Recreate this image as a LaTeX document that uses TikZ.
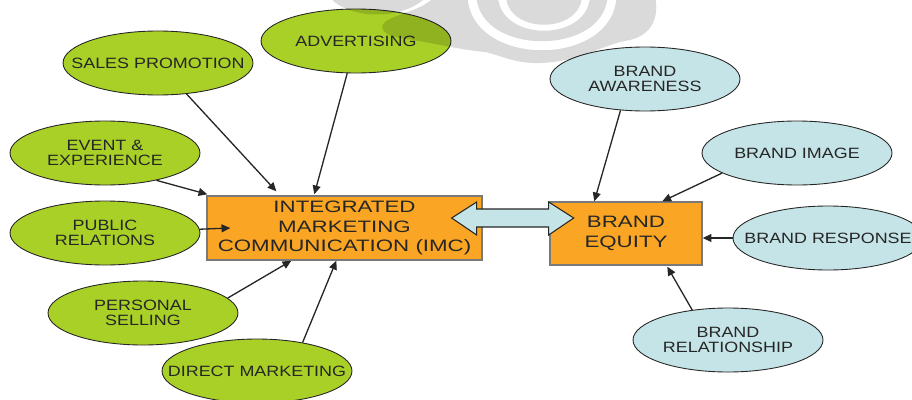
\documentclass[tikz,border=0pt]{standalone}
\usepackage{fontspec}
\setmainfont{Liberation Sans}
\newfontfamily\ellfont{Liberation Sans}[FakeStretch=1.2]
\newfontfamily\boxfont{Liberation Sans}[FakeStretch=1.35]
\usetikzlibrary{shapes.geometric,arrows.meta,calc}
\definecolor{toolgreen}{RGB}{169,208,38}
\definecolor{facetblue}{RGB}{197,228,231}
\definecolor{huborange}{RGB}{250,166,36}
\definecolor{inkgray}{RGB}{38,38,38}
\definecolor{rimgray}{RGB}{122,122,122}
% zero-width line so the oval keeps its own fixed size
\newcommand\ovline[1]{\makebox[0pt]{#1}}

\begin{document}
\begin{tikzpicture}[x=0.02cm,y=-0.02cm,
  oval/.style={ellipse, draw=inkgray, line width=0.5pt, minimum width=3.8cm,
    minimum height=1.28cm, inner sep=0pt, align=center, text=inkgray,
    font=\ellfont\fontsize{8.5}{8.6}\selectfont},
  tool/.style={oval, fill=toolgreen},
  facet/.style={oval, fill=facetblue},
  hub/.style={rectangle, draw=rimgray, line width=0.8pt, fill=huborange,
    inner sep=0pt, align=center, text=inkgray,
    font=\boxfont\fontsize{9.4}{11}\selectfont},
  link/.style={draw=inkgray, line width=0.75pt,
    -{Triangle[length=5pt,width=4.5pt]}},
  twoway/.style={draw=inkgray, line width=0.6pt, fill=facetblue},
  swirl/.style={fill=black, fill opacity=0.145, even odd rule}
]
\useasboundingbox (0,0) rectangle (912,399);

% communication tools
\node[tool] (sp)  at (158,63)  {\ovline{SALES PROMOTION}};
\node[tool] (adv) at (356,41)  {\ovline{ADVERTISING}};
\node[tool] (ev)  at (105,153) {\ovline{EVENT \&}\\\ovline{EXPERIENCE}};
\node[tool] (pr)  at (105,233) {\ovline{PUBLIC}\\\ovline{RELATIONS}};
\node[tool] (ps)  at (143,313) {\ovline{PERSONAL}\\\ovline{SELLING}};
\node[tool] (dm)  at (257,371) {\ovline{DIRECT MARKETING}};

% central boxes
\node[hub, minimum width=5.5cm, minimum height=1.28cm] (imc) at (344.5,228)
  {INTEGRATED\\MARKETING\\COMMUNICATION (IMC)};
\node[hub, minimum width=3.04cm, minimum height=1.26cm] (be) at (626,233.5)
  {BRAND\\EQUITY};

% brand equity facets
\node[facet] (ba)  at (645,79)  {\ovline{BRAND}\\\ovline{AWARENESS}};
\node[facet] (bi)  at (797,153) {\ovline{BRAND IMAGE}};
\node[facet] (brs) at (828,238) {\ovline{BRAND RESPONSE}};
\node[facet] (brl) at (728,340) {\ovline{BRAND}\\\ovline{RELATIONSHIP}};

% connectors into IMC
\draw[link] (sp) -- ($(imc.north west)+(70,-4)$);
\draw[link] (adv) -- ($(imc.north west)+(108,-1)$);
\draw[link] (ev.-28) -- ($(imc.north west)+(1,-1)$);
\draw[link] (pr) -- ($(imc.west)+(24,0)$);
\draw[link] (ps.10) -- ($(imc.south west)+(85,0)$);
\draw[link] (dm.32) -- ($(imc.south west)+(130,0)$);

% connectors into brand equity
\draw[link] (ba.-128) -- ($(be.north west)+(45,0)$);
\draw[link] (bi.-165) -- ($(be.north west)+(113,0)$);
\draw[link] (brs) -- (brs -| be.east);
\draw[link] (brl.140) -- ($(be.south west)+(118,1)$);

% two-way block arrow between the boxes
\coordinate (tl) at ($(imc.east)+(-31,-10)$);
\draw[twoway] (tl) -- ++(25,-16) -- ++(0,7) -- ++(72,0) -- ++(0,-7)
  -- ++(25,16) -- ++(-25,17) -- ++(0,-8) -- ++(-72,0) -- ++(0,8) -- cycle;

% faint swirl emblem, shading whatever lies beneath it
\fill[swirl]
  (328,-5) .. controls (345,20) and (405,22) .. (428,-5) -- cycle
  (436,-5) -- (655,-5) .. controls (660,20) and (650,35) .. (630,40)
    .. controls (600,45) and (580,62) .. (540,63)
    .. controls (515,64) and (500,55) .. (485,52)
    .. controls (460,50) and (430,42) .. (400,38)
    .. controls (385,36) and (378,28) .. (385,22)
    .. controls (395,14) and (425,10) .. cycle
  (467.5,-3) .. controls (471.5,68) and (612.5,68) .. (616.5,-3)
    -- (607.5,-3) .. controls (603.5,56) and (480.5,56) .. (476.5,-3) -- cycle
  (498,-3) .. controls (501,42) and (587,42) .. (590,-3)
    -- (582,-3) .. controls (579,34) and (509,34) .. (506,-3) -- cycle;
\end{tikzpicture}
\end{document}
